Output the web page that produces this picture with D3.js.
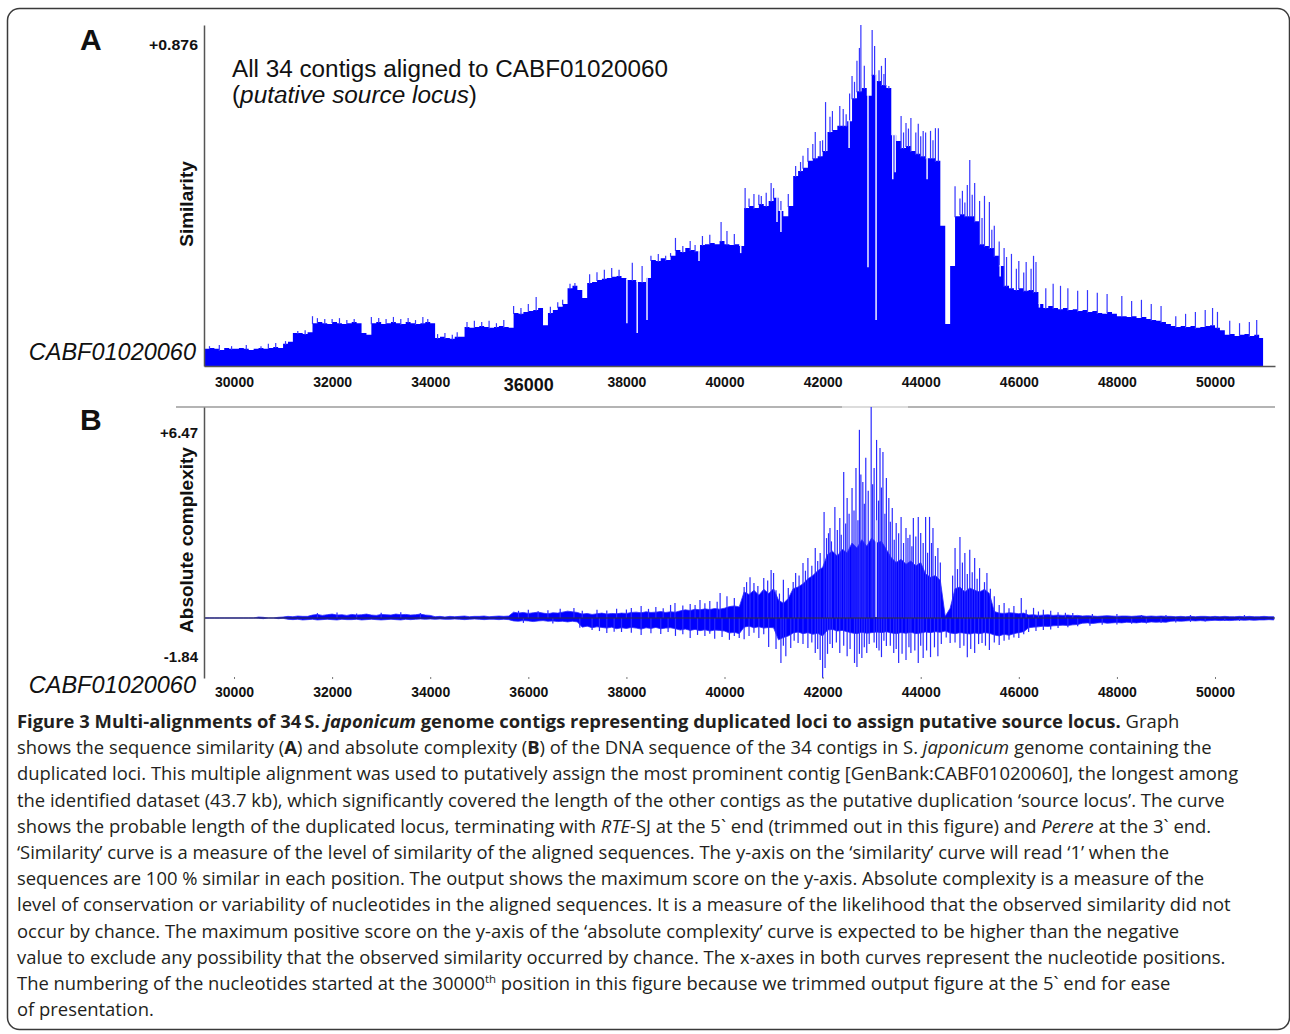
<!DOCTYPE html>
<html>
<head>
<meta charset="utf-8">
<script src="https://cdn.jsdelivr.net/npm/d3@7"></script>
<style>
body { margin: 0; background: #fff; }
svg text { font-family: "Liberation Sans", Arial, sans-serif; }
svg .cap text { font-family: "Open Sans", sans-serif; fill: #231f20; }
</style>
</head>
<body>
<svg id="fig" width="1290" height="1034"></svg>
<script>
// ---- data: panel A, similarity (one value per 100 nt, starting at 29400)
var simStart = 29400, simStep = 100, simEnd = 50980
var simBase = [
  0.044,0.046,0.044,0.041,0.046,0.044,0.044,0.046,0.044,0.041,0.044,0.046,0.044,0.046,0.049,0.046,
  0.057,0.062,0.085,0.085,0.082,0.087,
  0.110,0.113,0.110,0.108,0.113,0.110,0.108,0.110,0.113,0.110,
  0.085,0.080,
  0.110,0.113,0.108,0.110,0.113,0.110,0.108,0.113,0.110,0.108,0.110,0.113,0.110,
  0.072,0.075,0.072,0.070,0.075,0.075,
  0.100,0.098,0.100,0.103,0.100,0.098,0.100,0.103,0.100,0.098,
  0.136,0.134,0.139,0.141,0.144,0.149,
  0.105,
  0.136,0.144,0.152,0.159,
  0.200,0.206,0.195,0.175,
  0.213,0.216,0.221,0.224,0.226,0.229,0.231,0.226,
  0.221,0.221,0.216,0.216,0.226,
  0.272,0.270,0.277,0.272,0.283,
  0.298,0.293,0.303,0.298,0.295,
  0.311,0.313,0.316,0.313,0.321,0.313,0.311,0.313,0.308,
  0.406,0.411,0.406,0.416,0.411,0.424,0.432,
  0.398,0.385,0.411,
  0.488,0.501,0.509,0.527,0.534,0.539,0.552,
  0.601,0.606,0.617,0.617,0.629,
  0.688,0.706,0.714,0.694,
  0.748,0.732,0.722,0.714,
  0.593,0.578,0.560,0.565,0.552,0.545,0.539,0.534,0.534,0.527,
  0.360,0.108,0.257,
  0.385,0.390,0.385,0.385,0.372,
  0.313,0.308,0.303,0.283,0.257,
  0.206,0.200,0.195,0.200,0.193,0.195,0.190,
  0.159,0.149,0.154,0.149,0.146,0.149,0.144,0.146,0.141,0.144,0.139,0.141,0.136,0.134,0.139,0.134,
  0.128,0.128,0.126,0.128,0.123,0.126,0.121,0.118,0.116,0.113,
  0.108,0.103,0.100,0.103,0.100,0.103,0.098,0.100,0.103,0.105,0.098,0.092,
  0.080,0.082,0.077,0.080,0.082,0.077,0.080,0.072
]
// narrow peaks [position, similarity]
var simSpikes = [
  [29500,0.051],[29700,0.054],[29950,0.051],[30250,0.054],[30550,0.051],[30700,0.057],[30850,0.059],
  [31050,0.064],[31300,0.090],[31450,0.092],
  [31600,0.128],[31700,0.123],[31850,0.121],[32000,0.121],[32150,0.123],[32300,0.118],[32450,0.121],
  [32800,0.126],[32950,0.123],[33100,0.121],[33250,0.126],[33400,0.121],[33550,0.123],[33700,0.118],[33850,0.126],[33950,0.121],
  [34150,0.082],[34300,0.085],[34450,0.080],[34550,0.087],
  [34750,0.113],[34900,0.116],[35050,0.113],[35200,0.116],[35350,0.110],[35500,0.118],
  [35700,0.154],[35850,0.149],[36000,0.159],[36160,0.177],
  [36450,0.152],[36600,0.164],[36700,0.170],[36850,0.211],[36950,0.213],
  [37250,0.236],[37400,0.241],[37550,0.247],[37700,0.252],[37850,0.247],
  [38120,0.265],[38320,0.257],
  [38500,0.283],[38650,0.288],[38800,0.283],[38900,0.290],
  [39000,0.329],[39150,0.308],[39300,0.321],[39400,0.311],
  [39550,0.334],[39700,0.337],[39930,0.370],[40050,0.347],[40200,0.339],
  [40420,0.457],[40500,0.430],[40600,0.442],[40700,0.440],[40750,0.437],[40850,0.445],[40950,0.470],[41000,0.457],
  [41150,0.424],[41300,0.442],
  [41450,0.514],[41550,0.524],[41600,0.540],[41700,0.560],[41800,0.570],[41850,0.601],[41950,0.578],[42000,0.580],
  [42060,0.678],[42150,0.640],[42200,0.655],[42350,0.668],[42420,0.660],[42480,0.647],
  [42550,0.700],[42600,0.745],[42650,0.730],[42700,0.784],[42750,0.817],[42780,0.876],[42850,0.771],
  [43010,0.863],[43060,0.822],
  [43150,0.760],[43200,0.771],[43250,0.750],[43280,0.791],[43350,0.719],
  [43600,0.642],[43650,0.600],[43700,0.624],[43750,0.610],[43800,0.637],[43900,0.600],[43950,0.622],[44000,0.590],[44050,0.604],[44100,0.600],
  [44200,0.604],[44250,0.580],[44300,0.611],[44360,0.611],
  [44700,0.462],[44800,0.430],[44850,0.450],[44900,0.420],[44950,0.465],[45000,0.529],[45050,0.440],[45100,0.470],
  [45200,0.424],[45250,0.380],[45300,0.437],[45400,0.421],[45450,0.350],[45500,0.360],[45600,0.320],
  [45700,0.303],[45750,0.280],[45850,0.288],[45950,0.250],[46000,0.270],[46100,0.240],[46150,0.267],[46250,0.250],[46300,0.283],[46350,0.267],
  [46550,0.200],[46700,0.211],[46850,0.206],[47000,0.200],[47200,0.193],[47400,0.195],[47600,0.188],[47800,0.185],
  [48100,0.180],[48300,0.167],[48500,0.170],[48700,0.159],[48900,0.154],
  [49200,0.128],[49400,0.134],[49600,0.139],[49800,0.144],[49950,0.149],[50050,0.139],
  [50300,0.116],[50500,0.110],[50700,0.113],[50850,0.118]
]
// narrow gaps [position, similarity reached at the bottom of the gap]
var simNotches = [
  [38010,0.110],[38220,0.085],[38420,0.118],[41150,0.344],[42925,0.254],[43090,0.118],[43480,0.498],
  [39480,0.270],[40330,0.290],[41070,0.370],[42540,0.560],[43430,0.480],[44130,0.480],[45620,0.230],[46420,0.150]
]

// ---- data: panel B, absolute complexity (one value per 100 nt, starting at 29400)
var cxStart = 29400, cxStep = 100
var cxPos = [
  0,0,0,0,0,0,0,0,0,0,0,
  0.03,0.02,0,0,0.02,0.03,
  0.05,0.04,0.06,0.05,0.05,
  0.09,0.11,0.08,0.10,0.12,0.09,0.10,0.08,0.11,0.09,0.10,0.12,0.09,0.08,0.11,0.10,0.09,0.12,0.10,0.11,0.09,0.10,0.12,0.09,0.08,
  0.04,0.05,0.03,0.05,0.04,0.05,0.06,0.04,0.05,0.05,0.06,0.04,0.05,0.06,0.05,0.06,
  0.18,0.15,0.17,0.14,0.16,0.18,0.15,0.13,0.16,0.15,
  0.18,0.21,0.19,0.17,
  0.12,0.14,0.11,0.13,0.15,0.12,0.14,0.13,0.15,0.14,
  0.17,0.18,0.16,0.19,0.17,0.18,0.20,0.17,0.19,0.18,
  0.22,0.25,0.23,0.27,0.25,0.28,0.26,0.29,0.27,0.30,
  0.35,0.37,0.34,
  0.80,0.72,0.85,0.70,0.88,0.75,0.90,
  0.55,0.45,0.60,
  0.90,0.95,1.05,1.20,1.30,1.45,1.55,
  1.95,2.05,1.90,2.10,2.00,
  2.30,2.15,2.40,2.20,
  2.45,2.30,2.35,2.10,
  1.85,1.70,1.80,1.65,1.75,1.60,1.70,
  1.35,1.25,1.30,1.15,
  0.05,
  0.30,
  0.90,0.95,0.80,0.92,0.85,0.80,0.88,0.75,
  0.20,0.15,0.14,0.16,0.15,0.13,0.15,
  0.09,0.10,0.08,0.09,0.10,0.08,0.09,0.08,0.09,0.07,0.08,
  0.06,0.07,0.06,0.05,0.06,0.07,0.06,0.05,0.06,0.06,0.05,0.06,0.07,0.05,0.06,0.05,0.06,0.05,
  0.05,0.04,0.05,0.04,0.05,0.04,0.05,0.05,0.04,0.05,0.04,0.05,0.04,0.04,0.05,0.04,0.05,0.04,0.04,0.05,0.04,0.04
]
var cxNeg = [
  0,0,0,0,0,0,0,0,0,0,0,-0.01,-0.02,0,0,-0.02,-0.01,
  -0.04,-0.05,-0.04,-0.06,-0.05,-0.04,-0.06,-0.05,-0.04,-0.05,-0.06,-0.04,-0.05,-0.05,-0.04,-0.06,-0.05,-0.04,-0.05,-0.06,-0.05,-0.04,-0.05,
  -0.06,-0.04,-0.05,-0.04,-0.03,-0.04,-0.03,-0.04,-0.03,-0.04,-0.04,-0.03,-0.04,-0.05,-0.04,-0.03,-0.04,-0.05,-0.04,-0.04,-0.05,-0.04,-0.05,
  -0.09,-0.10,-0.08,-0.09,-0.11,-0.09,-0.08,-0.10,-0.09,-0.11,-0.10,-0.12,-0.10,-0.12,
  -0.28,-0.25,-0.30,-0.27,-0.29,
  -0.31,-0.28,-0.33,-0.30,-0.32,-0.29,-0.31,-0.34,-0.30,-0.32,-0.29,-0.33,-0.31,-0.30,-0.33,
  -0.37,-0.34,-0.38,-0.35,-0.39,-0.36,-0.40,-0.37,-0.38,-0.40,
  -0.46,-0.44,-0.48,
  -0.28,-0.25,-0.30,-0.27,-0.31,-0.29,-0.30,
  -0.67,-0.60,-0.55,
  -0.46,-0.43,-0.48,-0.45,-0.50,-0.47,-0.55,
  -0.37,-0.35,-0.40,-0.38,-0.42,
  -0.46,-0.48,-0.44,-0.47,-0.45,
  -0.43,-0.45,-0.42,
  -0.46,-0.48,-0.45,-0.47,-0.44,-0.48,-0.46,
  -0.43,-0.45,-0.42,-0.44,-0.40,
  -0.46,-0.48,-0.45,-0.47,-0.49,-0.46,-0.48,-0.45,-0.47,
  -0.52,-0.55,-0.50,-0.53,-0.48,-0.45,-0.42,
  -0.30,-0.28,-0.27,-0.25,-0.26,-0.24,-0.23,-0.22,-0.23,-0.21,-0.20,
  -0.16,-0.15,-0.17,-0.15,-0.14,-0.16,-0.15,-0.14,-0.15,-0.13,-0.14,-0.15,-0.13,-0.14,-0.12,-0.13,-0.12,-0.13,
  -0.10,-0.09,-0.10,-0.09,-0.08,-0.09,-0.08,-0.09,-0.08,-0.07,-0.08,-0.07,-0.08,-0.07,-0.06,-0.07,-0.06,-0.07,-0.06,-0.06,-0.05,-0.06
]
// narrow peaks above and below zero [position, complexity]
var cxSpikesUp = [
  [31700,0.15],[32100,0.17],[32500,0.14],[33000,0.16],[33400,0.18],[33800,0.15],[35800,0.22],
  [36000,0.25],[36200,0.21],[36400,0.24],[36650,0.28],[36930,0.31],[37100,0.22],[37400,0.25],[37600,0.23],[37800,0.28],
  [38000,0.26],[38100,0.31],[38300,0.37],[38450,0.28],[38600,0.34],[38750,0.30],[38900,0.40],[38990,0.46],[39150,0.38],
  [39300,0.43],[39400,0.40],[39500,0.55],[39600,0.45],[39700,0.52],[39850,0.50],[39910,0.77],[40050,0.67],[40200,0.61],
  [40400,0.95],[40450,1.10],[40520,1.25],[40600,1.07],[40680,0.98],[40800,1.23],[40880,1.15],[40950,1.47],[41000,1.38],
  [41050,0.85],[41120,0.75],[41200,1.17],[41300,0.92],[41400,1.10],[41450,1.38],[41520,1.30],[41600,1.69],[41650,1.45],
  [41700,1.84],[41780,1.60],[41850,2.15],[41900,1.75],[41950,1.99],[42030,3.25],[42080,2.45],[42120,2.60],[42150,2.76],
  [42180,2.35],[42250,3.40],[42300,2.70],[42350,3.07],[42380,2.55],[42430,4.48],[42470,2.90],[42500,3.68],[42540,3.20],
  [42600,3.99],[42640,3.30],[42680,4.60],[42720,3.00],[42750,5.77],[42780,4.40],[42820,4.17],[42850,3.50],[42880,4.91],
  [42930,3.90],[42990,6.47],[43020,4.10],[43050,4.60],[43100,5.46],[43140,3.60],[43170,5.21],[43200,4.00],[43230,5.09],
  [43270,3.20],[43300,4.29],[43350,3.68],[43380,2.95],[43420,3.37],[43460,2.40],[43500,2.91],[43550,2.60],[43600,3.10],
  [43650,2.30],[43700,2.76],[43740,2.45],[43780,2.55],[43820,2.20],[43850,3.07],[43900,2.50],[43950,3.10],[44000,2.61],
  [44050,2.30],[44100,3.10],[44140,2.00],[44180,3.10],[44220,2.30],[44250,2.76],[44300,1.90],[44350,2.15],[44400,1.70],
  [44650,1.30],[44700,2.15],[44750,1.50],[44800,2.48],[44850,1.70],[44900,1.99],[44950,1.35],[45000,2.09],[45050,1.40],
  [45100,1.84],[45150,1.20],[45200,1.53],[45300,1.10],[45350,1.38],[45420,0.90],[45500,0.67],[45600,0.40],[45700,0.46],
  [45800,0.30],[45900,0.37],[46050,0.61],[46150,0.25],[46300,0.31],[46400,0.20],[46500,0.25],[46650,0.22],[46800,0.18],
  [46950,0.16],[47100,0.15],[47500,0.12],[48000,0.12],[48500,0.09],[49000,0.09],[49500,0.09],[50000,0.06],[50600,0.09]
]
var cxSpikesDown = [
  [35900,-0.15],[36500,-0.17],[37050,-0.30],[37300,-0.37],[37450,-0.40],[37600,-0.46],[37750,-0.42],[37900,-0.43],
  [38100,-0.45],[38300,-0.52],[38500,-0.47],[38700,-0.49],[38850,-0.43],[39000,-0.55],[39150,-0.50],[39300,-0.61],
  [39450,-0.52],[39600,-0.55],[39700,-0.48],[39800,-0.64],[39950,-0.58],[40100,-0.67],[40200,-0.55],[40300,-0.61],
  [40400,-0.65],[40500,-0.55],[40600,-0.45],[40700,-0.61],[40800,-0.50],[40900,-0.89],[41050,-0.95],[41150,-1.38],
  [41200,-0.85],[41250,-1.17],[41350,-0.92],[41420,-0.70],[41500,-0.77],[41600,-0.80],[41700,-0.92],[41780,-0.75],
  [41850,-1.07],[41900,-0.95],[41950,-1.29],[42000,-1.84],[42050,-1.53],[42100,-1.10],[42150,-0.80],[42200,-0.92],
  [42280,-0.75],[42350,-1.07],[42430,-0.85],[42500,-1.17],[42560,-0.95],[42650,-1.38],[42700,-1.50],[42750,-1.10],
  [42800,-1.23],[42850,-0.90],[42900,-1.07],[42950,-0.80],[43050,-0.75],[43100,-0.92],[43150,-1.00],[43200,-1.20],
  [43250,-0.70],[43300,-0.86],[43380,-0.85],[43450,-1.07],[43500,-0.95],[43550,-1.38],[43620,-1.10],[43700,-1.29],
  [43760,-0.90],[43800,-1.07],[43880,-1.00],[43950,-1.38],[44000,-0.85],[44050,-1.23],[44120,-1.00],[44200,-1.20],
  [44280,-0.90],[44350,-1.17],[44420,-0.80],[44520,-0.60],[44600,-0.77],[44700,-0.75],[44800,-0.92],[44880,-0.85],
  [44950,-1.20],[45020,-0.95],[45100,-1.07],[45180,-0.80],[45250,-0.77],[45320,-0.85],[45400,-0.98],[45500,-0.75],
  [45600,-0.83],[45700,-0.70],[45800,-0.67],[45900,-0.60],[46000,-0.61],[46100,-0.50],[46200,-0.43],[46350,-0.40],
  [46500,-0.37],[46650,-0.35],[46800,-0.31],[47000,-0.28],[47200,-0.25],[47450,-0.24],[47700,-0.21],[48000,-0.20],
  [48300,-0.18],[48600,-0.17],[48900,-0.15],[49200,-0.14],[49500,-0.12],[49800,-0.11],[50200,-0.09],[50500,-0.09]
]
var cxNotches = [[43090,3.0]]

var xTicks = [30000,32000,34000,36000,38000,40000,42000,44000,46000,48000,50000]
var contigName = "CABF01020060"

if (simBase.length != 216 || cxPos.length != 219 || cxNeg.length != 219)
  throw new Error("lengths " + simBase.length + " " + cxPos.length + " " + cxNeg.length)

var captionLines = [
  [["Figure 3 Multi-alignments of 34\u2009","b"],["S. ","b"],["japonicum","bi"],[" genome contigs representing duplicated loci to assign putative source locus.","b"],[" Graph",""]],
  [["shows the sequence similarity (",""],["A","b"],[") and absolute complexity (",""],["B","b"],[") of the DNA sequence of the 34 contigs in S. ",""],["japonicum","i"],[" genome containing the",""]],
  [["duplicated loci. This multiple alignment was used to putatively assign the most prominent contig [GenBank:CABF01020060], the longest among",""]],
  [["the identified dataset (43.7 kb), which significantly covered the length of the other contigs as the putative duplication \u2018source locus\u2019. The curve",""]],
  [["shows the probable length of the duplicated locus, terminating with ",""],["RTE","i"],["-SJ at the 5` end (trimmed out in this figure) and ",""],["Perere","i"],[" at the 3` end.",""]],
  [["\u2018Similarity\u2019 curve is a measure of the level of similarity of the aligned sequences. The y-axis on the \u2018similarity\u2019 curve will read \u20181\u2019 when the",""]],
  [["sequences are 100 % similar in each position. The output shows the maximum score on the y-axis. Absolute complexity is a measure of the",""]],
  [["level of conservation or variability of nucleotides in the aligned sequences. It is a measure of the likelihood that the observed similarity did not",""]],
  [["occur by chance. The maximum positive score on the y-axis of the \u2018absolute complexity\u2019 curve is expected to be higher than the negative",""]],
  [["value to exclude any possibility that the observed similarity occurred by chance. The x-axes in both curves represent the nucleotide positions.",""]],
  [["The numbering of the nucleotides started at the 30000",""],["th","sup"],[" position in this figure because we trimmed output figure at the 5` end for ease",""]],
  [["of presentation.",""]]
]

// ---- drawing
var svg = d3.select("#fig")
var blue = "#0000ff"
var labelFont = "Liberation Sans, Arial, sans-serif"

svg.append("rect")
    .attr("x", 7.5).attr("y", 8.5).attr("width", 1282).attr("height", 1021)
    .attr("rx", 12).attr("fill", "#fff").attr("stroke", "#3a3a3a").attr("stroke-width", 1.5)

var xScale = d3.scaleLinear().domain([29388, 51223]).range([204, 1275])
var yA = d3.scaleLinear().domain([0, 0.876]).range([366, 25])
var yB = d3.scaleLinear().domain([-1.84, 6.47]).range([678, 407])

// value of the 100-nt bin that holds a position
function simBodyAt(pos) {
    var i = Math.min(simBase.length - 1, Math.max(0, Math.floor((pos - simStart) / simStep)))
    return simBase[i]
}

// panel A -------------------------------------------------------------
var simData = simBase.map(function (v, i) { return { pos: simStart + i * simStep, v: v } })
simData.push({ pos: simEnd, v: simBase[simBase.length - 1] })

var areaA = d3.area()
    .x(function (d) { return xScale(d.pos) })
    .y0(yA(0))
    .y1(function (d) { return yA(d.v) })
    .curve(d3.curveStepAfter)

svg.append("path").datum(simData).attr("d", areaA).attr("fill", blue)

svg.append("g").selectAll("line")
    .data(simSpikes.filter(function (d) { return d[1] > simBodyAt(d[0]) })).enter().append("line")
    .attr("x1", function (d) { return xScale(d[0]) }).attr("x2", function (d) { return xScale(d[0]) })
    .attr("y1", function (d) { return yA(simBodyAt(d[0])) + 1 }).attr("y2", function (d) { return yA(d[1]) })
    .attr("stroke", "#3535ff").attr("stroke-width", 1.2)

svg.append("g").selectAll("line")
    .data(simNotches).enter().append("line")
    .attr("x1", function (d) { return xScale(d[0]) }).attr("x2", function (d) { return xScale(d[0]) })
    .attr("y1", function (d) { return yA(d[1]) }).attr("y2", function (d) { return yA(simBodyAt(d[0])) - 1 })
    .attr("stroke", "#f0f0ff").attr("stroke-width", 1.5)

var axA = svg.append("g")
    .attr("transform", "translate(0," + yA(0) + ")")
    .call(d3.axisBottom(xScale).tickValues(xTicks).tickSize(0).tickSizeOuter(0).tickPadding(11).tickFormat(d3.format("d")))
axA.select(".domain").attr("stroke", "#555").attr("stroke-width", 1.5)
axA.selectAll("text")
    .attr("font-family", labelFont)
    .attr("font-weight", "bold").attr("font-size", 14).attr("fill", "#111")
    .filter(function (d) { return d == 36000 })
    .attr("font-size", 18).attr("dy", "0.8em")

var yAxA = svg.append("g")
    .attr("transform", "translate(204,0)")
    .call(d3.axisLeft(yA).tickValues([0.876]).tickSize(0).tickSizeOuter(0).tickPadding(6)
        .tickFormat(function (d) { return "+" + d }))
yAxA.select(".domain").attr("stroke", "#555").attr("stroke-width", 1.5)
yAxA.selectAll("text")
    .attr("font-family", labelFont)
    .attr("font-weight", "bold").attr("font-size", 14.5).attr("fill", "#111")
    .attr("textLength", 49).attr("lengthAdjust", "spacingAndGlyphs")
    .attr("dy", 24)

svg.append("text").attr("x", 80).attr("y", 50)
    .attr("font-size", 30).attr("font-weight", "bold").attr("fill", "#111").text("A")

svg.append("text")
    .attr("transform", "translate(193,204) rotate(-90)")
    .attr("text-anchor", "middle").attr("font-size", 19).attr("font-weight", "bold").attr("fill", "#111")
    .text("Similarity")

svg.append("text").attr("x", 196).attr("y", 360)
    .attr("text-anchor", "end").attr("font-size", 23.5).attr("font-style", "italic").attr("fill", "#111")
    .text(contigName)

svg.append("text").attr("x", 232).attr("y", 77)
    .attr("font-size", 23).attr("fill", "#111")
    .attr("textLength", 436).attr("lengthAdjust", "spacingAndGlyphs")
    .text("All 34 contigs aligned to " + contigName)
var t2 = svg.append("text").attr("x", 232).attr("y", 103)
    .attr("font-size", 23).attr("fill", "#111")
    .attr("textLength", 245).attr("lengthAdjust", "spacingAndGlyphs")
t2.append("tspan").text("(")
t2.append("tspan").attr("font-style", "italic").text("putative source locus")
t2.append("tspan").text(")")

// panel B -------------------------------------------------------------
svg.append("line").attr("x1", 176).attr("x2", 1275).attr("y1", 407).attr("y2", 407)
    .attr("stroke", "#b4b4b4").attr("stroke-width", 2)
svg.append("line").attr("x1", 842).attr("x2", 908).attr("y1", 407).attr("y2", 407)
    .attr("stroke", "#dcdcdc").attr("stroke-width", 2)

var cxData = cxPos.map(function (v, i) { return { pos: cxStart + i * cxStep, hi: v, lo: cxNeg[i] } })
var areaB = d3.area()
    .x(function (d) { return xScale(d.pos) })
    .y0(function (d) { return yB(d.lo) })
    .y1(function (d) { return yB(d.hi) })

svg.append("path").datum(cxData).attr("d", areaB).attr("fill", blue)
    .attr("stroke", "#2a2aff").attr("stroke-width", 0.8)

svg.append("g").selectAll("line")
    .data(cxSpikesUp.concat(cxSpikesDown)).enter().append("line")
    .attr("x1", function (d) { return xScale(d[0]) }).attr("x2", function (d) { return xScale(d[0]) })
    .attr("y1", yB(0)).attr("y2", function (d) { return yB(d[1]) })
    .attr("stroke", "#2a2aff").attr("stroke-width", 1.2)

svg.append("g").selectAll("line")
    .data(cxNotches).enter().append("line")
    .attr("x1", function (d) { return xScale(d[0]) }).attr("x2", function (d) { return xScale(d[0]) })
    .attr("y1", yB(0) - 1).attr("y2", function (d) { return yB(d[1]) })
    .attr("stroke", "#e8e8ff").attr("stroke-width", 1.4)

svg.append("line").attr("x1", 204).attr("x2", 1275).attr("y1", yB(0)).attr("y2", yB(0))
    .attr("stroke", "#333").attr("stroke-width", 1.2)

var axB = svg.append("g")
    .attr("transform", "translate(0,677)")
    .call(d3.axisBottom(xScale).tickValues(xTicks).tickSize(2).tickSizeOuter(0).tickPadding(8).tickFormat(d3.format("d")))
axB.select(".domain").remove()
axB.selectAll("line").attr("stroke", "#777")
axB.selectAll("text")
    .attr("font-family", labelFont)
    .attr("font-weight", "bold").attr("font-size", 14).attr("fill", "#111")

var yAxB = svg.append("g")
    .attr("transform", "translate(204,0)")
    .call(d3.axisLeft(yB).tickValues([6.47, -1.84]).tickSize(0).tickSizeOuter(0).tickPadding(6)
        .tickFormat(function (d) { return (d > 0 ? "+" : "-") + Math.abs(d).toFixed(2) }))
yAxB.select(".domain").attr("stroke", "#555").attr("stroke-width", 1.5)
yAxB.selectAll("text")
    .attr("font-family", labelFont)
    .attr("font-weight", "bold").attr("font-size", 15).attr("fill", "#111")
    .attr("dy", function (d) { return d > 0 ? 30 : -17 })

svg.append("text").attr("x", 80).attr("y", 430)
    .attr("font-size", 30).attr("font-weight", "bold").attr("fill", "#111").text("B")

svg.append("text")
    .attr("transform", "translate(193,540) rotate(-90)")
    .attr("text-anchor", "middle").attr("font-size", 19).attr("font-weight", "bold").attr("fill", "#111")
    .text("Absolute complexity")

svg.append("text").attr("x", 196).attr("y", 693)
    .attr("text-anchor", "end").attr("font-size", 23.5).attr("font-style", "italic").attr("fill", "#111")
    .text(contigName)

// caption -------------------------------------------------------------
var capSize = 16.5
var cap = svg.append("g").attr("class", "cap")
captionLines.forEach(function (line, i) {
    var t = cap.append("text").attr("x", 17).attr("y", 728 + i * 26.2).attr("font-size", capSize)
    line.forEach(function (seg) {
        var s = t.append("tspan").text(seg[0])
        if (seg[1].indexOf("b") >= 0) s.attr("font-weight", "bold")
        if (seg[1].indexOf("i") >= 0) s.attr("font-style", "italic")
        if (seg[1] == "sup") s.attr("class", "sup").attr("font-size", capSize * 0.62).attr("dy", -7)
        if (i == 10 && seg[0].indexOf(" position") == 0) s.attr("dy", 7)
    })
})
// fit the caption width to the printed figure (lines 2 and 3 together)
var nodes = cap.selectAll("text").nodes()
var natural = nodes[1].getComputedTextLength() + nodes[2].getComputedTextLength()
var k = (1202 + 1215) / natural
cap.selectAll("text").attr("font-size", capSize * k)
cap.selectAll("tspan.sup").attr("font-size", capSize * k * 0.62)
</script>
</body>
</html>
